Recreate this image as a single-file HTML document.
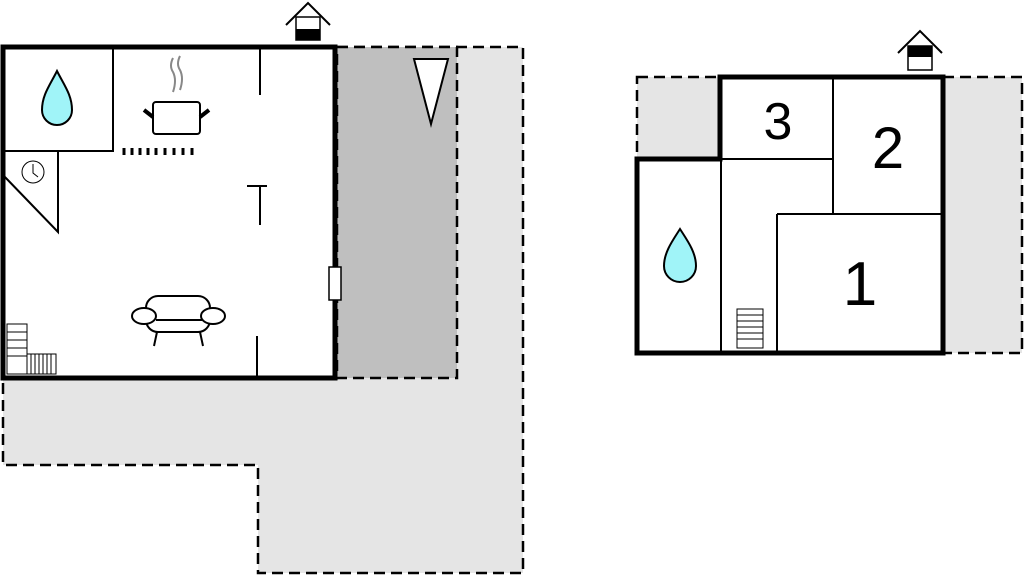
<!DOCTYPE html>
<html><head><style>body{margin:0;background:#fff}svg{display:block}</style></head><body>
<svg width="1024" height="575" viewBox="0 0 1024 575" xmlns="http://www.w3.org/2000/svg" font-family="Liberation Sans, sans-serif">
<path d="M337,47 H523 V573 H258 V465 H3 V378 H337 Z" fill="#e5e5e5" stroke="#000" stroke-width="2.5" stroke-dasharray="11,6"/>
<rect x="337" y="47" width="120" height="331" fill="#bfbfbf" stroke="#000" stroke-width="2.5" stroke-dasharray="11,6"/>
<rect x="3" y="47" width="332" height="331" fill="#fff" stroke="#000" stroke-width="5"/>
<g stroke="#000" stroke-width="2" fill="none">
<path d="M3,151 H113 V47"/>
<path d="M58,151 V232 L3,175"/>
<circle cx="33" cy="172" r="11" stroke-width="1"/>
<path d="M33,164 V173 L38,177" stroke-width="1"/>
<path d="M260,49 V95 M257,336 V376 M247,186 H267 M260,186 V225"/>
<rect x="153" y="102" width="47" height="32" rx="3"/>
<path d="M153,117 L144,110 M200,117 L209,110" stroke-width="4"/>
<path d="M173,58 q-4,8 0,14 q4,8 0,20 M180,56 q-4,8 0,14 q4,8 0,20" stroke="#888"/>
<path d="M124,148 v7 M132,148 v7 M140,148 v7 M148,148 v7 M156,148 v7 M165,148 v7 M174,148 v7 M183,148 v7 M192,148 v7" stroke-width="3"/>
<rect x="146" y="296" width="64" height="36" rx="12" fill="#fff"/>
<ellipse cx="144" cy="316" rx="12" ry="8" fill="#fff"/>
<ellipse cx="213" cy="316" rx="12" ry="8" fill="#fff"/>
<path d="M157,332 l-3,14 M200,332 l3,14 M156,320 H202"/>
</g>
<path d="M57,71 C50,85 42,95 42,110 A15,15 0 0 0 72,110 C72,95 64,85 57,71 Z" fill="#a0f4f8" stroke="#000" stroke-width="2"/>
<path d="M414,59 H448 L431,124 Z" fill="#fff" stroke="#000" stroke-width="2"/>
<rect x="329" y="267" width="12" height="33" fill="#fff" stroke="#000" stroke-width="1.5"/>
<g stroke="#000" stroke-width="1" fill="#fff">
<rect x="7" y="324" width="20" height="50"/>
<path d="M7,332 H27 M7,340 H27 M7,348 H27 M7,356 H27"/>
<rect x="27" y="354" width="29" height="20"/>
<path d="M31,354 V374 M35,354 V374 M39,354 V374 M43,354 V374 M47,354 V374 M51,354 V374"/>
</g>
<path d="M286,25 L308,3 L330,25" fill="none" stroke="#000" stroke-width="2"/>
<rect x="296" y="17" width="24" height="23" fill="#fff" stroke="#000" stroke-width="1.5"/>
<rect x="296" y="29" width="24" height="11" fill="#000"/>
<rect x="637" y="77" width="83" height="82" fill="#e5e5e5" stroke="#000" stroke-width="2.5" stroke-dasharray="11,6"/>
<rect x="943" y="77" width="79" height="276" fill="#e5e5e5" stroke="#000" stroke-width="2.5" stroke-dasharray="11,6"/>
<path d="M720,77 H943 V353 H637 V159 H720 Z" fill="#fff" stroke="#000" stroke-width="5"/>
<path d="M721,159 V353 M721,159 H833 M833,77 V214 M777,214 H943 M777,214 V353" stroke="#000" stroke-width="2" fill="none"/>
<text x="778" y="139" font-size="52" text-anchor="middle">3</text>
<text x="888" y="168" font-size="58" text-anchor="middle">2</text>
<text x="860" y="305" font-size="62" text-anchor="middle">1</text>
<path d="M680,229 C673,240 664,252 664,266 A16,16 0 0 0 696,266 C696,252 687,240 680,229 Z" fill="#a0f4f8" stroke="#000" stroke-width="2"/>
<g stroke="#000" stroke-width="1" fill="#fff">
<rect x="737" y="309" width="26" height="39"/>
<path d="M737,315 H763 M737,321 H763 M737,327 H763 M737,333 H763 M737,339 H763"/>
</g>
<path d="M898,53 L920,31 L942,53" fill="none" stroke="#000" stroke-width="2"/>
<rect x="908" y="46" width="24" height="24" fill="#fff" stroke="#000" stroke-width="1.5"/>
<rect x="908" y="46" width="24" height="11" fill="#000"/>
</svg>
</body></html>
